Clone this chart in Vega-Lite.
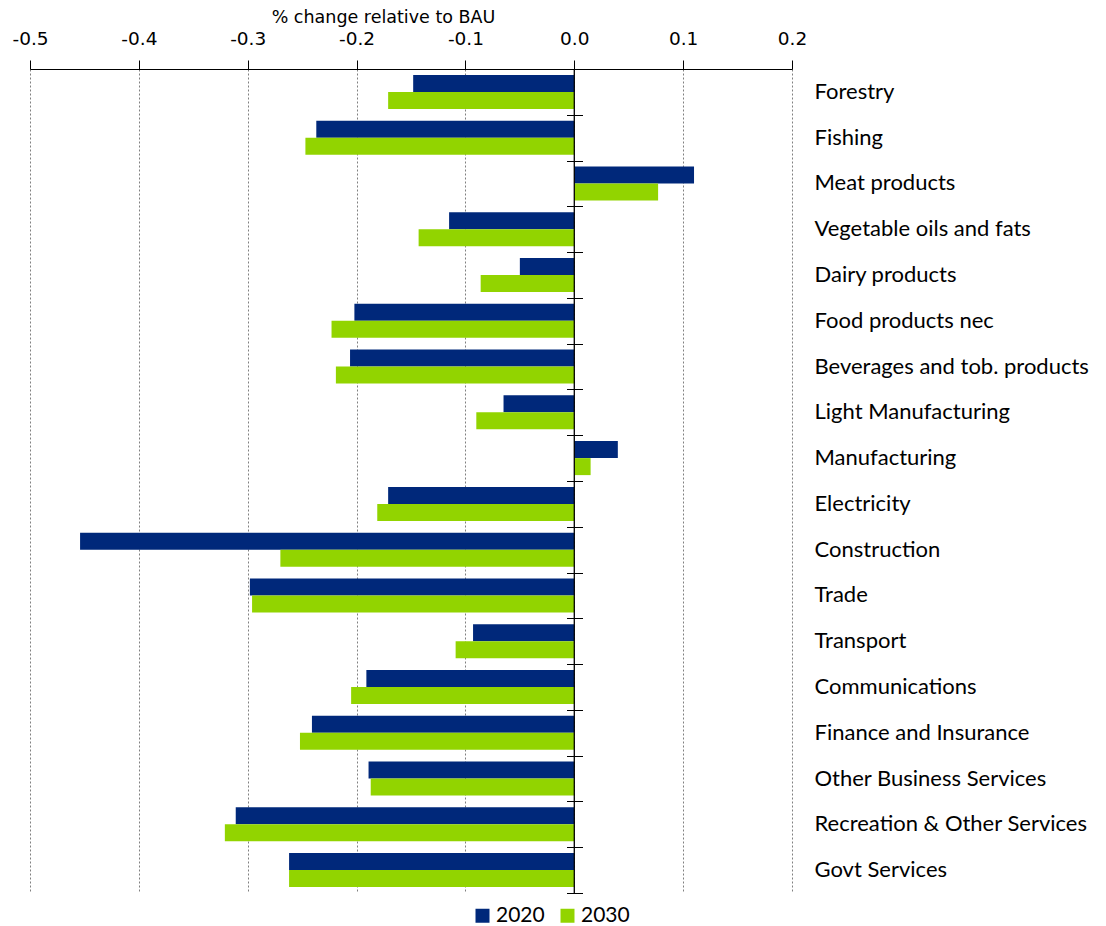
{
  "$schema": "https://vega.github.io/schema/vega-lite/v6.json",
  "width": 762,
  "height": 824,
  "autosize": {"type": "none"},
  "padding": {"left": 30, "top": 69, "right": 314, "bottom": 33},
  "background": "white",
  "config": {"view": {"stroke": null}},
  "datasets": {
    "main": [
      {"sector": "Forestry", "year": "2020", "value": -0.148},
      {"sector": "Forestry", "year": "2030", "value": -0.171},
      {"sector": "Fishing", "year": "2020", "value": -0.237},
      {"sector": "Fishing", "year": "2030", "value": -0.247},
      {"sector": "Meat products", "year": "2020", "value": 0.110},
      {"sector": "Meat products", "year": "2030", "value": 0.077},
      {"sector": "Vegetable oils and fats", "year": "2020", "value": -0.115},
      {"sector": "Vegetable oils and fats", "year": "2030", "value": -0.143},
      {"sector": "Dairy products", "year": "2020", "value": -0.050},
      {"sector": "Dairy products", "year": "2030", "value": -0.086},
      {"sector": "Food products nec", "year": "2020", "value": -0.202},
      {"sector": "Food products nec", "year": "2030", "value": -0.223},
      {"sector": "Beverages and tob. products", "year": "2020", "value": -0.206},
      {"sector": "Beverages and tob. products", "year": "2030", "value": -0.219},
      {"sector": "Light Manufacturing", "year": "2020", "value": -0.065},
      {"sector": "Light Manufacturing", "year": "2030", "value": -0.090},
      {"sector": "Manufacturing", "year": "2020", "value": 0.040},
      {"sector": "Manufacturing", "year": "2030", "value": 0.015},
      {"sector": "Electricity", "year": "2020", "value": -0.171},
      {"sector": "Electricity", "year": "2030", "value": -0.181},
      {"sector": "Construction", "year": "2020", "value": -0.454},
      {"sector": "Construction", "year": "2030", "value": -0.270},
      {"sector": "Trade", "year": "2020", "value": -0.298},
      {"sector": "Trade", "year": "2030", "value": -0.296},
      {"sector": "Transport", "year": "2020", "value": -0.093},
      {"sector": "Transport", "year": "2030", "value": -0.109},
      {"sector": "Communications", "year": "2020", "value": -0.191},
      {"sector": "Communications", "year": "2030", "value": -0.205},
      {"sector": "Finance and Insurance", "year": "2020", "value": -0.241},
      {"sector": "Finance and Insurance", "year": "2030", "value": -0.252},
      {"sector": "Other Business Services", "year": "2020", "value": -0.189},
      {"sector": "Other Business Services", "year": "2030", "value": -0.187},
      {"sector": "Recreation & Other Services", "year": "2020", "value": -0.311},
      {"sector": "Recreation & Other Services", "year": "2030", "value": -0.321},
      {"sector": "Govt Services", "year": "2020", "value": -0.262},
      {"sector": "Govt Services", "year": "2030", "value": -0.262}
    ],
    "zero": [{"v": 0}]
  },
  "layer": [
    {
      "data": {"name": "main"},
      "mark": {"type": "bar"},
      "encoding": {
        "y": {
          "field": "sector",
          "type": "nominal",
          "sort": null,
          "scale": {"paddingInner": 0, "paddingOuter": 0},
          "axis": {
            "orient": "left",
            "offset": -552.5,
            "title": null,
            "labels": false,
            "domain": false,
            "grid": false,
            "ticks": true,
            "tickBand": "extent",
            "tickSize": 16,
            "tickColor": "#000000",
            "tickWidth": 1,
            "zindex": 2
          }
        },
        "yOffset": {"field": "year", "type": "nominal", "scale": {"paddingInner": 0, "paddingOuter": 0.346}},
        "x": {
          "field": "value",
          "type": "quantitative",
          "scale": {"domain": [-0.5, 0.2], "nice": false, "zero": false},
          "axis": {
            "orient": "top",
            "values": [-0.5, -0.4, -0.3, -0.2, -0.1, 0, 0.1, 0.2],
            "labelExpr": "datum.value < -0.0001 ? '-' + format(-datum.value, '.1f') : format(datum.value, '.1f')",
            "labelFont": "DejaVu Sans",
            "labelFontSize": 18.5,
            "labelColor": "#000000",
            "labelPadding": 12,
            "labelFlush": false,
            "labelOverlap": false,
            "domainColor": "#000000",
            "domainWidth": 1,
            "tickColor": "#000000",
            "tickSize": 9,
            "grid": true,
            "gridColor": "#808080",
            "gridDash": [2, 2],
            "gridWidth": 1,
            "title": "% change relative to BAU",
            "titleFont": "DejaVu Sans",
            "titleFontSize": 17.5,
            "titleFontWeight": "normal",
            "titleColor": "#000000",
            "titleX": 353,
            "titleY": -52,
            "titleAlign": "center",
            "titleBaseline": "middle"
          }
        },
        "color": {
          "field": "year",
          "type": "nominal",
          "scale": {"domain": ["2020", "2030"], "range": ["#00287A", "#92D400"]},
          "legend": {
            "orient": "none",
            "legendX": 442,
            "legendY": 836,
            "direction": "horizontal",
            "title": null,
            "symbolType": "square",
            "symbolSize": 196,
            "symbolStrokeWidth": 0,
            "symbolOpacity": 1,
            "labelFont": "Lato",
            "labelFontSize": 21,
            "labelColor": "#000000",
            "labelOffset": 3,
            "columnPadding": 12
          }
        }
      }
    },
    {
      "data": {"name": "zero"},
      "mark": {"type": "rule", "color": "#000000", "strokeWidth": 1.3},
      "encoding": {
        "x": {"field": "v", "type": "quantitative"}
      }
    },
    {
      "data": {"name": "main"},
      "mark": {"type": "text", "text": ""},
      "encoding": {
        "y": {
          "field": "sector",
          "type": "nominal",
          "sort": null,
          "axis": {
            "orient": "right",
            "title": null,
            "domain": false,
            "ticks": false,
            "grid": false,
            "labelPadding": 22,
            "labelFont": "Lato",
            "labelFontSize": 22,
            "labelLimit": 0,
            "labelColor": "#000000",
            "labelAlign": "left"
          }
        },
        "x": {"datum": 0, "type": "quantitative"}
      }
    }
  ],
  "resolve": {"axis": {"y": "independent"}}
}
